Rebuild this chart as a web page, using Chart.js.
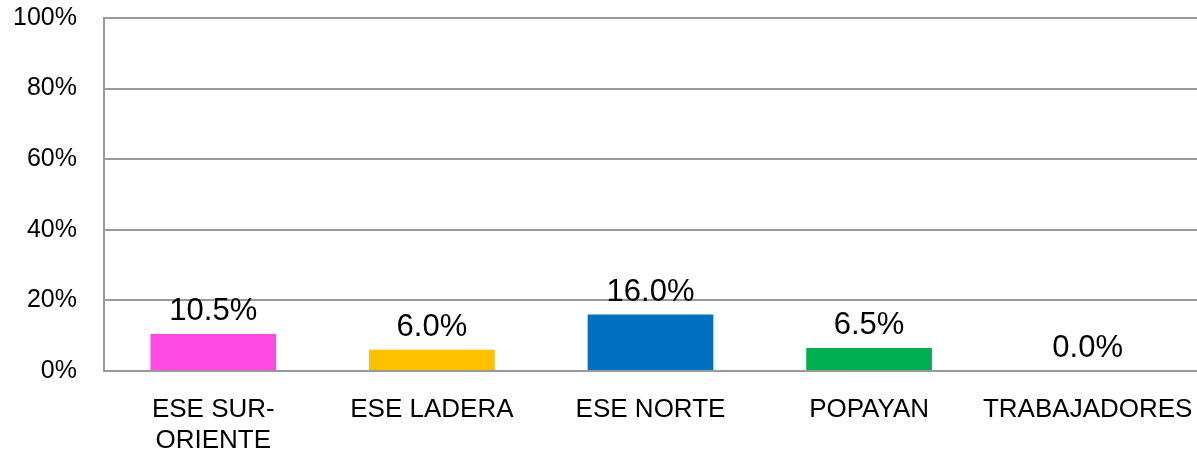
<!DOCTYPE html>
<html>
<head>
<meta charset="utf-8">
<script src="https://cdn.jsdelivr.net/npm/chart.js@4/dist/chart.umd.min.js"></script>
<style>
  html, body { margin: 0; padding: 0; background: #fff; }
  #wrap { width: 1197px; height: 454px; }
</style>
</head>
<body>
<div id="wrap"><canvas id="chart"></canvas></div>
<script>
// categories and values
const categories = [['ESE SUR-', 'ORIENTE'], 'ESE LADERA', 'ESE NORTE', 'POPAYAN', 'TRABAJADORES'];
const values = [0.105, 0.06, 0.16, 0.065, 0.0];
const barColors = ['#FF4BE1', '#FFC000', '#0070C0', '#00B050', '#7F7F7F'];
const yTicks = [0, 0.2, 0.4, 0.6, 0.8, 1];

const gridGray = '#9a9a9a';

// data labels above each bar
const valueLabels = {
    id: 'valueLabels',
    afterDatasetsDraw(chart) {
        const ctx = chart.ctx;
        const meta = chart.getDatasetMeta(0);
        ctx.save();
        ctx.font = '31px "Liberation Sans", Arial, sans-serif';
        ctx.fillStyle = '#000';
        ctx.textAlign = 'center';
        ctx.textBaseline = 'alphabetic';
        meta.data.forEach((bar, i) => {
            ctx.fillText((values[i] * 100).toFixed(1) + '%', bar.x, bar.y - 14);
        });
        ctx.restore();
    }
};

// drop the extra edge padding chart.js reserves for tick labels
function noEdgePadding(scale) {
    scale.paddingTop = 0;
    scale.paddingBottom = 0;
    scale.paddingLeft = 0;
    scale.paddingRight = 0;
}

const chartData = {
    labels: categories,
    datasets: [{
        data: values,
        backgroundColor: barColors,
        borderWidth: 0,
        categoryPercentage: 1,
        barPercentage: 0.575
    }]
};

const chartOptions = {
    responsive: true,
    maintainAspectRatio: false,
    animation: { duration: 0 },
    layout: {
        padding: { top: 18, right: 0, left: 0, bottom: 0 }
    },
    scales: {
        x: {
            grid: { display: false, drawTicks: false },
            border: { display: true, color: gridGray, width: 2 },
            ticks: {
                color: '#000',
                padding: 23,
                maxRotation: 0,
                autoSkip: false,
                font: { family: '"Liberation Sans", Arial, sans-serif', size: 26, lineHeight: 1.2 }
            },
            afterFit(scale) {
                scale.height = 83;
                noEdgePadding(scale);
            }
        },
        y: {
            min: 0,
            max: 1,
            afterBuildTicks(scale) { scale.ticks = yTicks.map(v => ({ value: v })); },
            grid: { color: gridGray, lineWidth: 2, drawTicks: false },
            border: { display: true, color: gridGray, width: 2 },
            ticks: {
                color: '#000',
                padding: 27,
                font: { family: '"Liberation Sans", Arial, sans-serif', size: 25 },
                callback: v => Math.round(v * 100) + '%'
            },
            afterFit(scale) {
                scale.width = 104;
                noEdgePadding(scale);
            }
        }
    },
    plugins: {
        legend: { display: false },
        tooltip: { enabled: false }
    }
};

new Chart(document.getElementById('chart'), {
    type: 'bar',
    data: chartData,
    options: chartOptions,
    plugins: [valueLabels]
});
</script>
</body>
</html>
